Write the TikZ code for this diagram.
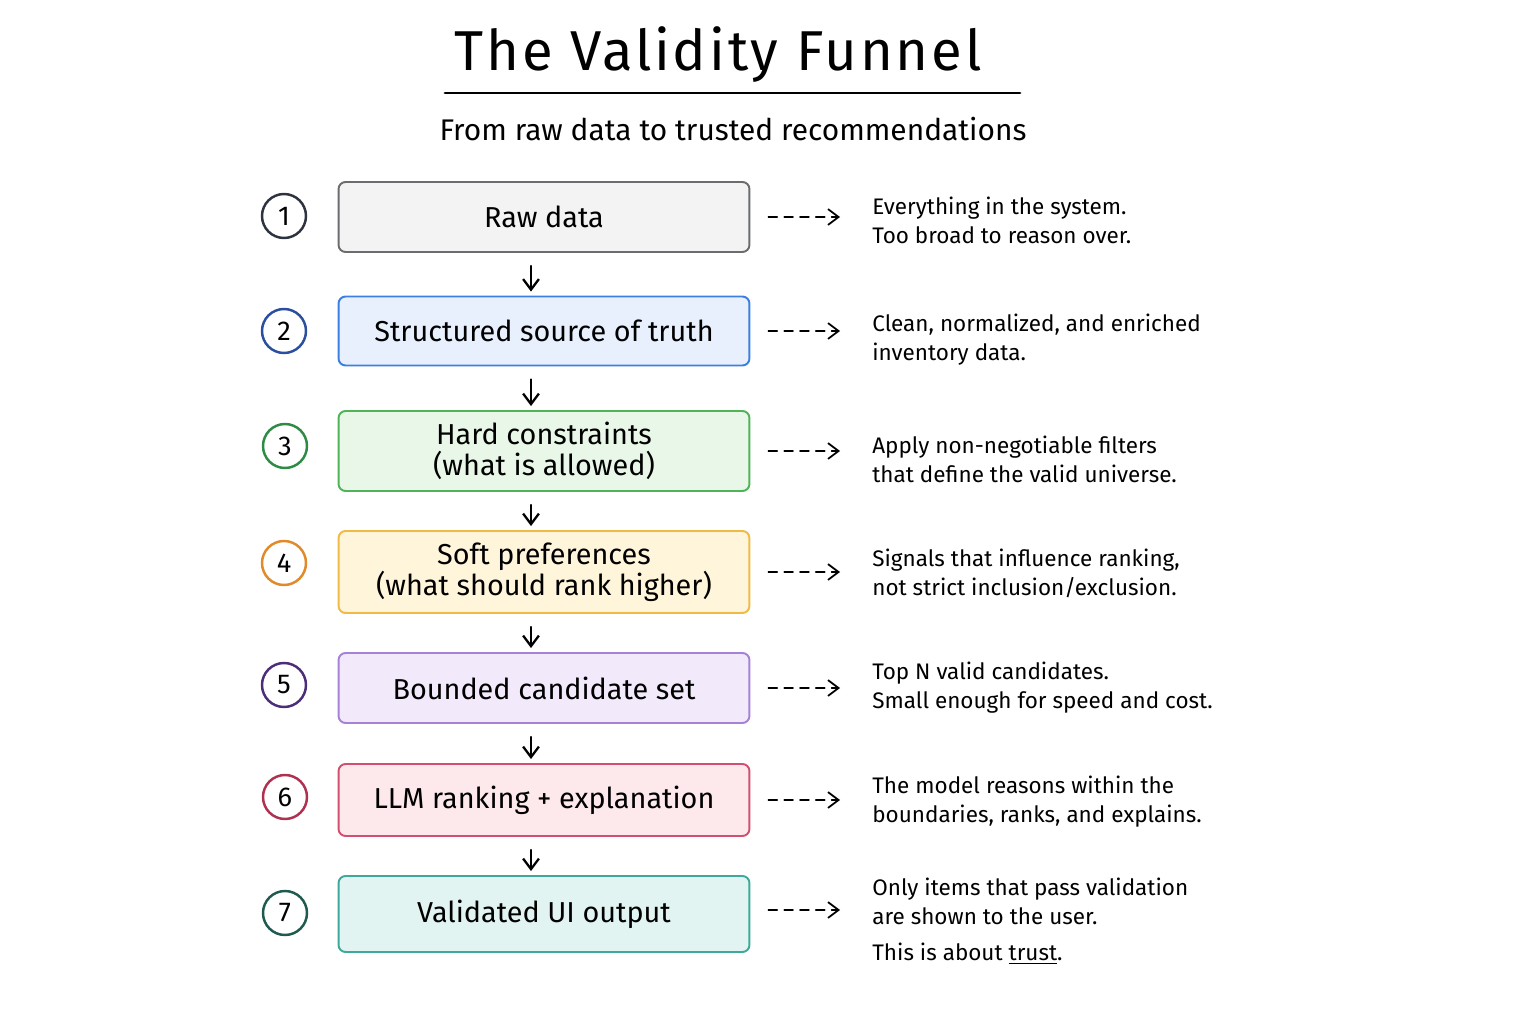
\documentclass[tikz,border=0pt]{standalone}
\usepackage{fontspec}
\setmainfont{Fira Sans}
\usepackage{xcolor}
\usetikzlibrary{arrows.meta}

\definecolor{grayline}{HTML}{6A6C70}
\definecolor{grayfill}{HTML}{F3F3F3}
\definecolor{blueline}{HTML}{3B7FE0}
\definecolor{bluefill}{HTML}{E7F0FC}
\definecolor{greenline}{HTML}{4FB458}
\definecolor{greenfill}{HTML}{E8F7E7}
\definecolor{orangeline}{HTML}{F0BA45}
\definecolor{orangefill}{HTML}{FFF5DB}
\definecolor{purpleline}{HTML}{A582D8}
\definecolor{purplefill}{HTML}{F2E9FB}
\definecolor{redline}{HTML}{D2506F}
\definecolor{redfill}{HTML}{FDE8EC}
\definecolor{tealline}{HTML}{3EA99B}
\definecolor{tealfill}{HTML}{E1F4F2}
\definecolor{numgray}{HTML}{2D3340}
\definecolor{numblue}{HTML}{2A4F9E}
\definecolor{numgreen}{HTML}{2E8B46}
\definecolor{numorange}{HTML}{E08A2A}
\definecolor{numpurple}{HTML}{4B2D7A}
\definecolor{numred}{HTML}{B0304F}
\definecolor{numteal}{HTML}{1F5A50}

\begin{document}
\begin{tikzpicture}[x=0.02cm,y=-0.02cm,>={Straight Barb[length=6pt,width=9pt]},line cap=round,
    stage box/.style={draw,line width=1.1pt,rounded corners=4pt,minimum width=8.22cm,align=center,font=\fontsize{16.4}{17.6}\selectfont},
    num node/.style={circle,draw,line width=1.4pt,minimum size=0.88cm,inner sep=0pt,font=\fontsize{15.5}{17}\selectfont},
    note node/.style={anchor=west,align=left,inner sep=0pt,font=\fontsize{12.8}{16.5}\selectfont},
    down arrow/.style={->,line width=1.3pt,shorten <=0.26cm,shorten >=0.08cm},
    side arrow/.style={->,line width=1pt,dash pattern=on 5pt off 4pt,shorten <=0.36cm,shorten >=0.64cm}]
    \useasboundingbox (0,0) rectangle (1536,1024);

    % title
    \node (title) at (718,55) {\fontsize{32}{36}\selectfont\addfontfeatures{LetterSpace=5}The Validity Funnel};
    \coordinate (ruleL) at (445,93);
    \coordinate (ruleR) at (1020,93);
    \draw[line width=1.6pt] (ruleL) -- (ruleR);
    \node (subtitle) at (733,129) {\fontsize{17}{19}\selectfont From raw data to trusted recommendations};

    % stages
    \node[stage box,fill=grayfill,draw=grayline,minimum height=1.4cm] (box1) at (544,217) {Raw data};
    \node[stage box,fill=bluefill,draw=blueline,minimum height=1.38cm] (box2) at (544,331) {Structured source of truth};
    \node[stage box,fill=greenfill,draw=greenline,minimum height=1.6cm] (box3) at (544,451) {Hard constraints\\(what is allowed)};
    \node[stage box,fill=orangefill,draw=orangeline,minimum height=1.64cm] (box4) at (544,572) {Soft preferences\\(what should rank higher)};
    \node[stage box,fill=purplefill,draw=purpleline,minimum height=1.4cm] (box5) at (544,688) {Bounded candidate set};
    \node[stage box,fill=redfill,draw=redline,minimum height=1.44cm] (box6) at (544,800) {LLM ranking + explanation};
    \node[stage box,fill=tealfill,draw=tealline,minimum height=1.52cm] (box7) at (544,914) {Validated UI output};

    % step numbers
    \node[num node,draw=numgray] (num1) at (284,216) {1};
    \node[num node,draw=numblue] (num2) at (284,331) {2};
    \node[num node,draw=numgreen] (num3) at (285,446) {3};
    \node[num node,draw=numorange] (num4) at (284,563) {4};
    \node[num node,draw=numpurple] (num5) at (284,685) {5};
    \node[num node,draw=numred] (num6) at (285,797) {6};
    \node[num node,draw=numteal] (num7) at (285,913) {7};

    % notes
    \node[note node] (note1) at (872,220) {Everything in the system.\\Too broad to reason over.};
    \node[note node] (note2) at (872,340) {Clean, normalized, and enriched\\inventory data.};
    \node[note node] (note3) at (872,459) {Apply non-negotiable filters\\that define the valid universe.};
    \node[note node] (note4) at (872,573) {Signals that influence ranking,\\not strict inclusion/exclusion.};
    \node[note node] (note5) at (872,688) {Top N valid candidates.\\Small enough for speed and cost.};
    \node[note node] (note6) at (872,802) {The model reasons within the\\boundaries, ranks, and explains.};
    \node[note node] (note7) at (872,901) {Only items that pass validation\\are shown to the user.};
    \node[note node] (trust) at (872,954) {This is about \underline{trust}.};

    % flow
    \draw[down arrow] ([xshift=-0.26cm]box1.south) -- ([xshift=-0.26cm]box2.north);
    \draw[down arrow] ([xshift=-0.26cm]box2.south) -- ([xshift=-0.26cm]box3.north);
    \draw[down arrow] ([xshift=-0.26cm]box3.south) -- ([xshift=-0.26cm]box4.north);
    \draw[down arrow] ([xshift=-0.26cm]box4.south) -- ([xshift=-0.26cm]box5.north);
    \draw[down arrow] ([xshift=-0.26cm]box5.south) -- ([xshift=-0.26cm]box6.north);
    \draw[down arrow] ([xshift=-0.26cm]box6.south) -- ([xshift=-0.26cm]box7.north);

    \draw[side arrow] (box1.east) -- (box1.east -| note1.west);
    \draw[side arrow] (box2.east) -- (box2.east -| note2.west);
    \draw[side arrow] (box3.east) -- (box3.east -| note3.west);
    \draw[side arrow] (box4.east) -- (box4.east -| note4.west);
    \draw[side arrow] (box5.east) -- (box5.east -| note5.west);
    \draw[side arrow] (box6.east) -- (box6.east -| note6.west);
    \draw[side arrow] ([yshift=0.08cm]box7.east) -- ([yshift=0.08cm]box7.east -| note7.west);
\end{tikzpicture}
\end{document}
